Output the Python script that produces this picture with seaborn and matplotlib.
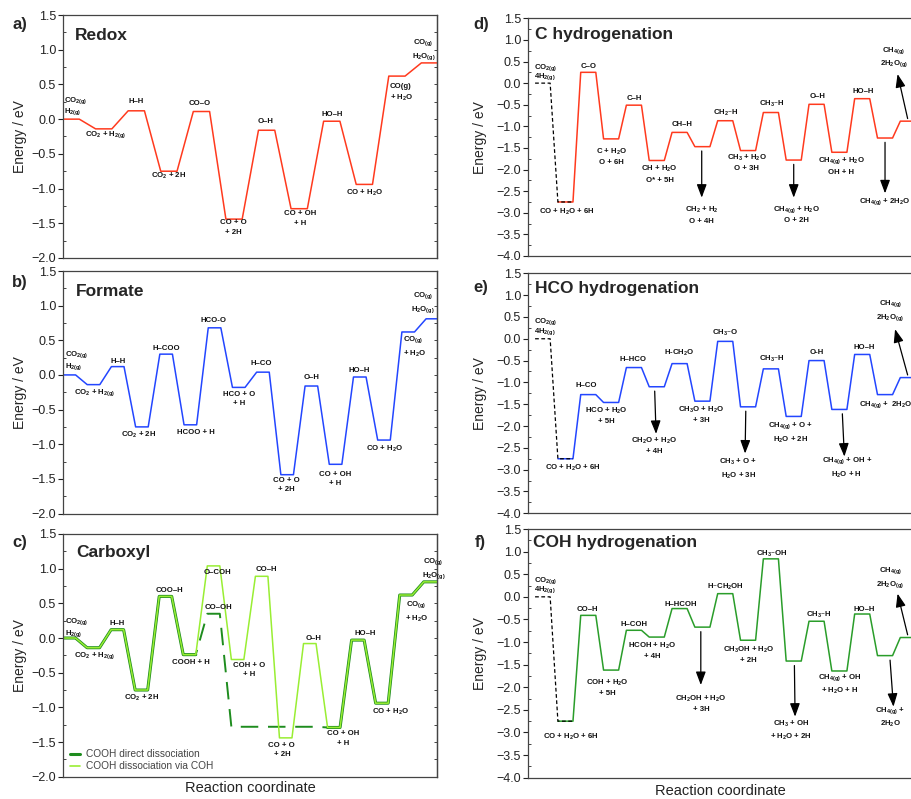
import matplotlib
matplotlib.use('Agg')
import matplotlib.pyplot as plt
import seaborn as sns
from matplotlib.ticker import MultipleLocator
from matplotlib.lines import Line2D

sns.set_style('ticks')
plt.rcParams['font.family'] = ['Liberation Sans', 'DejaVu Sans']
plt.rcParams['mathtext.default'] = 'regular'

# ---------------- data ----------------
a_energy = [0.0, -0.14, 0.12, -0.75, 0.11, -1.44, -0.16, -1.29, -0.03, -0.94, 0.62, 0.81]
b_energy = [0.0, -0.14, 0.12, -0.75, 0.30, -0.72, 0.68, -0.18, 0.04, -1.44, -0.16, -1.29, -0.03, -0.94, 0.62, 0.81]
c_via_coh = [0.0, -0.14, 0.12, -0.75, 0.60, -0.24, 1.04, -0.31, 0.89, -1.44, -0.08, -1.29, -0.03, -0.94, 0.62, 0.81]
c_direct = [0.0, -0.14, 0.12, -0.75, 0.60, -0.24, 0.35, -1.28, -1.28, -1.28, -1.28, -1.29, -0.03, -0.94, 0.62, 0.81]
d_energy = [0.0, -2.75, 0.25, -1.29, -0.51, -1.79, -1.14, -1.47, -0.87, -1.56, -0.68, -1.78, -0.49, -1.60, -0.36, -1.27, -0.88]
e_energy = [0.0, -2.75, -1.28, -1.46, -0.66, -1.10, -0.57, -1.43, -0.06, -1.56, -0.69, -1.78, -0.50, -1.62, -0.36, -1.28, -0.89]
f_energy = [0.0, -2.75, -0.41, -1.62, -0.74, -0.89, -0.26, -0.67, 0.07, -0.96, 0.84, -1.42, -0.54, -1.64, -0.38, -1.30, -0.90]

titles = ['Redox', 'Formate', 'Carboxyl', 'C hydrogenation', 'HCO hydrogenation', 'COH hydrogenation']
letters = ['a)', 'b)', 'c)', 'd)', 'e)', 'f)']
legend_labels = ['COOH direct dissociation', 'COOH dissociation via COH']

RED = '#ff3a1e'
BLUE = '#2346ff'
LGREEN = '#99ee33'
DGREEN = '#1e8c1e'
FGREEN = '#2a9d2a'

g = '$_{(g)}$'
a_labels = [
    (0.02, 0.27, 'CO$_{2(g)}$', 'left'), (0.02, 0.11, 'H$_{2(g)}$', 'left'),
    (1.31, -0.225, 'CO$_2$ + H$_{2(g)}$', 'center'), (2.23, 0.25, 'H–H', 'center'),
    (3.23, -0.82, 'CO$_2$ + 2H', 'center'), (4.21, 0.23, 'CO–O', 'center'),
    (5.22, -1.56, 'CO + O\n+ 2H', 'center'), (6.23, -0.035, 'O–H', 'center'),
    (7.27, -1.43, 'CO + OH\n+ H', 'center'), (8.26, 0.07, 'HO–H', 'center'),
    (9.27, -1.06, 'CO + H$_2$O', 'center'), (10.04, 0.38, 'CO(g)\n+ H$_2$O', 'left'),
    (11.07, 1.0, 'CO' + g + '\nH$_2$O' + g, 'center'),
]
b_labels = [
    (0.07, 0.29, 'CO$_{2(g)}$', 'left'), (0.07, 0.125, 'H$_{2(g)}$', 'left'),
    (1.31, -0.25, 'CO$_2$ + H$_{2(g)}$', 'center'), (2.28, 0.2, 'H–H', 'center'),
    (3.12, -0.86, 'CO$_2$ + 2H', 'center'), (4.25, 0.385, 'H–COO', 'center'),
    (5.49, -0.83, 'HCOO + H', 'center'), (6.22, 0.79, 'HCO-O', 'center'),
    (7.27, -0.35, 'HCO + O\n+ H', 'center'), (8.2, 0.16, 'H–CO', 'center'),
    (9.21, -1.59, 'CO + O\n+ 2H', 'center'), (10.25, -0.04, 'O–H', 'center'),
    (11.24, -1.5, 'CO + OH\n+ H', 'center'), (12.25, 0.06, 'HO–H', 'center'),
    (13.28, -1.07, 'CO + H$_2$O', 'center'), (14.04, 0.41, 'CO' + g + '\n+ H$_2$O', 'left'),
    (14.87, 1.04, 'CO' + g + '\nH$_2$O' + g, 'center'),
]
c_labels = [
    (0.07, 0.23, 'CO$_{2(g)}$', 'left'), (0.07, 0.07, 'H$_{2(g)}$', 'left'),
    (1.32, -0.26, 'CO$_2$ + H$_{2(g)}$', 'center'), (2.25, 0.21, 'H–H', 'center'),
    (3.26, -0.86, 'CO$_2$ + 2H', 'center'), (4.42, 0.69, 'COO–H', 'center'),
    (5.3, -0.35, 'COOH + H', 'center'), (6.42, 0.95, 'O–COH', 'center'),
    (6.46, 0.44, 'CO–OH', 'center'), (8.47, 0.99, 'CO–H', 'center'),
    (7.75, -0.46, 'COH + O\n+ H', 'center'), (9.1, -1.62, 'CO + O\n+ 2H', 'center'),
    (10.4, 0.0, 'O–H', 'center'), (11.64, -1.45, 'CO + OH\n+ H', 'center'),
    (12.55, 0.07, 'HO–H', 'center'), (13.6, -1.06, 'CO + H$_2$O', 'center'),
    (14.7, 0.38, 'CO' + g + '\n+ H$_2$O', 'center'),
    (15.4, 1.0, 'CO' + g + '\nH$_2$O' + g, 'center'),
]
d_labels = [
    (-0.04, 0.37, 'CO$_{2(g)}$', 'left'), (-0.04, 0.14, '4H$_{2(g)}$', 'left'),
    (1.39, -2.98, 'CO + H$_2$O + 6H', 'center'), (2.34, 0.38, 'C–O', 'center'),
    (3.33, -1.7, 'C + H$_2$O\nO + 6H', 'center'), (4.34, -0.35, 'C–H', 'center'),
    (5.45, -2.1, 'CH + H$_2$O\nO* + 5H', 'center'), (6.42, -0.95, 'CH–H', 'center'),
    (7.3, -3.05, 'CH$_2$ + H$_2$\nO + 4H', 'center'), (8.36, -0.7, 'CH$_2$–H', 'center'),
    (9.27, -1.84, 'CH$_3$ + H$_2$O\nO + 3H', 'center'), (10.36, -0.48, 'CH$_3$–H', 'center'),
    (11.43, -3.03, 'CH$_{4(g)}$ + H$_2$O\nO + 2H', 'center'), (12.38, -0.31, 'O–H', 'center'),
    (13.4, -1.91, 'CH$_{4(g)}$ + H$_2$O\nOH + H', 'center'), (14.38, -0.2, 'HO–H', 'center'),
    (15.3, -2.74, 'CH$_{4(g)}$ + 2H$_2$O', 'center'),
    (15.7, 0.6, 'CH$_{4(g)}$\n2H$_2$O$_{(g)}$', 'center'),
]
e_labels = [
    (-0.04, 0.39, 'CO$_{2(g)}$', 'left'), (-0.04, 0.16, '4H$_{2(g)}$', 'left'),
    (1.65, -2.97, 'CO + H$_2$O + 6H', 'center'), (2.26, -1.06, 'H–CO', 'center'),
    (3.11, -1.75, 'HCO + H$_2$O\n+ 5H', 'center'), (4.28, -0.47, 'H–HCO', 'center'),
    (5.21, -2.45, 'CH$_2$O + H$_2$O\n+ 4H', 'center'), (6.32, -0.32, 'H-CH$_2$O', 'center'),
    (7.27, -1.74, 'CH$_3$O + H$_2$O\n+ 3H', 'center'), (8.32, 0.14, 'CH$_3$–O', 'center'),
    (8.9, -2.98, 'CH$_3$ + O +\nH$_2$O + 3H', 'center'), (10.36, -0.47, 'CH$_3$–H', 'center'),
    (11.17, -2.15, 'CH$_{4(g)}$ + O +\nH$_2$O + 2H', 'center'), (12.34, -0.31, 'O-H', 'center'),
    (13.65, -2.95, 'CH$_{4(g)}$ + OH +\nH$_2$O + H', 'center'), (14.4, -0.2, 'HO–H', 'center'),
    (14.2, -1.52, 'CH$_{4(g)}$ +  2H$_2$O', 'left'),
    (15.55, 0.65, 'CH$_{4(g)}$\n2H$_2$O$_{(g)}$', 'center'),
]
f_labels = [
    (-0.04, 0.35, 'CO$_{2(g)}$', 'left'), (-0.04, 0.15, '4H$_{2(g)}$', 'left'),
    (1.56, -3.1, 'CO + H$_2$O + 6H', 'center'), (2.29, -0.27, 'CO–H', 'center'),
    (3.18, -2.0, 'COH + H$_2$O\n+ 5H', 'center'), (4.32, -0.61, 'H–COH', 'center'),
    (5.15, -1.18, 'HCOH + H$_2$O\n+ 4H', 'center'), (6.38, -0.17, 'H–HCOH', 'center'),
    (7.28, -2.35, 'CH$_2$OH + H$_2$O\n+ 3H', 'center'), (8.34, 0.21, 'H–CH$_2$OH', 'center'),
    (9.36, -1.28, 'CH$_3$OH + H$_2$O\n+ 2H', 'center'), (10.36, 0.96, 'CH$_3$–OH', 'center'),
    (11.21, -2.95, 'CH$_3$ + OH\n+ H$_2$O + 2H', 'center'), (12.41, -0.41, 'CH$_3$–H', 'center'),
    (13.33, -1.93, 'CH$_{4(g)}$ + OH\n+ H$_2$O + H', 'center'), (14.41, -0.28, 'HO–H', 'center'),
    (15.55, -2.66, 'CH$_{4(g)}$ +\n2H$_2$O', 'center'),
    (15.55, 0.42, 'CH$_{4(g)}$\n2H$_2$O$_{(g)}$', 'center'),
]
# arrows: (level index, x offset, end y, end x offset)
d_arrows = [(7, 0.3, -2.65, 0.3), (11, 0.33, -2.65, 0.33), (15, 0.33, -2.55, 0.33)]
e_arrows = [(5, 0.24, -2.18, 0.3), (9, 0.23, -2.63, 0.2), (13, 0.46, -2.7, 0.55)]
f_arrows = [(7, 0.26, -1.95, 0.26), (11, 0.36, -2.65, 0.39), (15, 0.55, -2.43, 0.7)]
up_arrows = {'d': (15.88, 0.21), 'e': (15.77, 0.22), 'f': (15.88, 0.07)}

W, H = 911, 799
fig = plt.figure(figsize=(W / 100, H / 100), dpi=100)


def px_axes(x0, y0, x1, y1):
    return fig.add_axes([x0 / W, 1 - y1 / H, (x1 - x0) / W, (y1 - y0) / H])


def build_path(energies, w, start=0, stop=None, xmax=None):
    xs, ys = [], []
    n = len(energies)
    stop = n if stop is None else stop
    for i in range(start, stop):
        e = energies[i]
        x1 = i + w
        if xmax is not None and i == n - 1:
            x1 = xmax
        xs += [i, x1]
        ys += [e, e]
    return xs, ys


def style_axes(ax, ylim, xlim, label_x):
    ax.set_ylim(*ylim)
    ax.set_xlim(*xlim)
    ax.set_xticks([])
    ax.yaxis.set_major_locator(MultipleLocator(0.5))
    ax.yaxis.set_minor_locator(MultipleLocator(0.25))
    ax.tick_params(axis='y', which='major', direction='out', length=3.5, width=0.8,
                   labelsize=9, pad=1.5, colors='#222')
    ax.tick_params(axis='y', which='minor', direction='in', length=2.5, width=0.7, colors='#444')
    for sp in ax.spines.values():
        sp.set_visible(True)
        sp.set_color('#444')
        sp.set_linewidth(0.9)
    sec = ax.secondary_yaxis('right')
    sec.yaxis.set_major_locator(MultipleLocator(0.25))
    sec.tick_params(axis='y', direction='in', length=2.5, width=0.7, labelright=False, colors='#444')
    sec.spines['right'].set_color('#444')
    sec.spines['right'].set_linewidth(0.9)
    ax.set_ylabel('Energy / eV', fontsize=10)
    ax.yaxis.set_label_coords(label_x, 0.5)
    ax.set_xlabel('')


def put_labels(ax, labels):
    for x, y, t, ha in labels:
        ax.text(x, y, t, ha=ha, va='center', fontsize=5.6, fontweight='bold',
                linespacing=1.45, color='#111')


def line(ax, xs, ys, color, lw, **kw):
    sns.lineplot(x=xs, y=ys, sort=False, estimator=None, color=color, lw=lw, ax=ax, **kw)


# ---------------- left column ----------------
ax_a = px_axes(63, 15, 437, 258)
xs, ys = build_path(a_energy, 0.5, xmax=11.48)
line(ax_a, xs, ys, RED, 1.1)
style_axes(ax_a, (-2.0, 1.5), (0, 11.48), -0.097)
put_labels(ax_a, a_labels)

ax_b = px_axes(63, 271, 437, 513.5)
xs, ys = build_path(b_energy, 0.52, xmax=15.45)
line(ax_b, xs, ys, BLUE, 1.1)
style_axes(ax_b, (-2.0, 1.5), (0, 15.45), -0.097)
put_labels(ax_b, b_labels)

ax_c = px_axes(63, 534, 437, 776.7)
xs, ys = build_path(c_direct, 0.52, stop=6)
line(ax_c, xs, ys, DGREEN, 2.2)
xs, ys = build_path(c_direct, 0.52, start=11, xmax=15.55)
line(ax_c, xs, ys, DGREEN, 2.2)
xs, ys = build_path(c_direct, 0.52, start=5, stop=12)
line(ax_c, xs, ys, DGREEN, 1.4, linestyle=(0, (9, 5)))
xs, ys = build_path(c_via_coh, 0.52, xmax=15.55)
line(ax_c, xs, ys, LGREEN, 1.1)
style_axes(ax_c, (-2.0, 1.5), (0, 15.55), -0.097)
put_labels(ax_c, c_labels)
handles = [Line2D([0], [0], color=DGREEN, lw=2.2), Line2D([0], [0], color=LGREEN, lw=1.2)]
leg = ax_c.legend(handles, legend_labels, loc='lower left', bbox_to_anchor=(0.02, 0.022),
                  frameon=False, fontsize=7.3, handlelength=0.9, handletextpad=0.6,
                  labelspacing=0.2, borderpad=0.0, borderaxespad=0.0)
for t in leg.get_texts():
    t.set_color('#444')
ax_c.set_xlabel('Reaction coordinate', fontsize=10.5, labelpad=3, color='#222')

# ---------------- right column ----------------
RX0, RX1 = 528, 930
XL = (-0.31, 17.3)
W_R = 0.66


def right_panel(y0, y1, energies, color, labels, arrows, up):
    ax = px_axes(RX0, y0, RX1, y1)
    # dashed start from gas phase
    xs, ys = build_path(energies, W_R, stop=2)
    xs_c, ys_c = build_path(energies, W_R, start=1, xmax=XL[1])
    line(ax, xs_c, ys_c, color, 1.1)
    line(ax, xs, ys, 'black', 0.9, linestyle=(0, (3, 2)))
    style_axes(ax, (-4.0, 1.5), XL, -0.102)
    put_labels(ax, labels)
    ap = dict(arrowstyle='-|>,head_length=0.8,head_width=0.3', color='black', lw=0.9,
              shrinkA=0, shrinkB=0)
    for i, dx, yend, dxe in arrows:
        ax.annotate('', xy=(i + dxe, yend), xytext=(i + dx, energies[i] - 0.1), arrowprops=ap)
    n = len(energies) - 1
    ax.annotate('', xy=up, xytext=(n + 0.32, energies[n] + 0.06), arrowprops=ap)
    return ax


ax_d = right_panel(18.3, 256, d_energy, RED, d_labels, d_arrows, up_arrows['d'])
ax_e = right_panel(273.3, 513.3, e_energy, BLUE, e_labels, e_arrows, up_arrows['e'])
ax_f = right_panel(529, 777.7, f_energy, FGREEN, f_labels, f_arrows, up_arrows['f'])
fig.text(720 / W, 1 - 791 / H, 'Reaction coordinate', ha='center', va='center',
         fontsize=10.5, color='#222')

# titles and letters
title_pos = [(75, 36), (76, 291), (76, 552), (535, 35), (535, 289), (533, 543)]
letter_pos = [(20, 24), (20, 282), (20, 543), (481, 25), (481, 288), (480, 543)]
for t, (x, y) in zip(titles, title_pos):
    fig.text(x / W, 1 - y / H, t, ha='left', va='center', fontsize=12.5, fontweight='bold')
for t, (x, y) in zip(letters, letter_pos):
    fig.text(x / W, 1 - y / H, t, ha='center', va='center', fontsize=12, fontweight='bold')

fig.savefig('out.png', dpi=100)
